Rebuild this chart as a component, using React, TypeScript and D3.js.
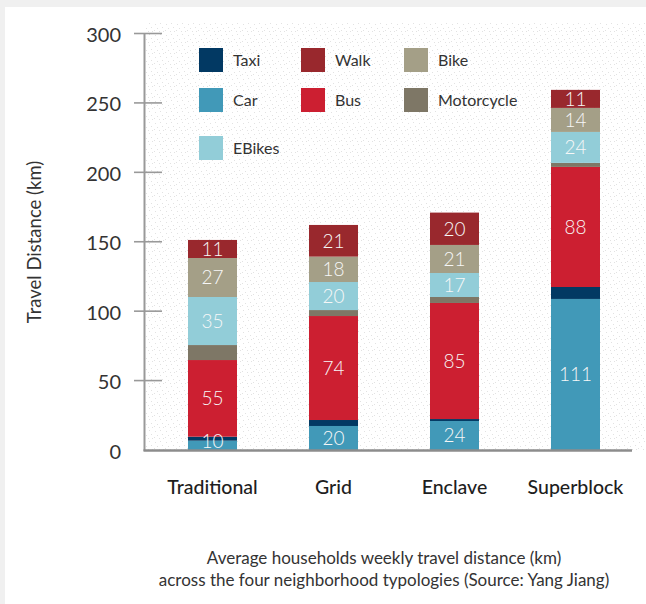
import React from "react";
import * as d3 from "d3";

const W = 646;
const H = 604;

const categories = ["Traditional", "Grid", "Enclave", "Superblock"];
const modes = ["Car", "Taxi", "Bus", "Motorcycle", "EBikes", "Bike", "Walk"];
const colors: Record<string, string> = {
  Car: "#4199b8",
  Taxi: "#023963",
  Bus: "#cc1f31",
  Motorcycle: "#7e7766",
  EBikes: "#92cdd8",
  Bike: "#a49f87",
  Walk: "#99282d",
};

// drawn segment heights (km), bottom to top, per category
const car = [6.7, 17.3, 20.9, 108.8];
const taxi = [2.9, 4.3, 1.4, 8.6];
const bus = [55.2, 74.9, 83.6, 86.5];
const motorcycle = [10.8, 4.3, 4.3, 2.9];
const ebikes = [34.6, 20.2, 17.3, 22.3];
const bike = [28.1, 18.3, 20.2, 17.3];
const walk = [13.0, 22.8, 23.3, 13.0];

// printed labels
const carLabels = ["10", "20", "24", "111"];
const busLabels = ["55", "74", "85", "88"];
const ebikeLabels = ["35", "20", "17", "24"];
const bikeLabels = ["27", "18", "21", "14"];
const walkLabels = ["11", "21", "20", "11"];

const yTicks = [0, 50, 100, 150, 200, 250, 300];

const legendRows = [
  ["Taxi", "Walk", "Bike"],
  ["Car", "Bus", "Motorcycle"],
  ["EBikes"],
];

const series: Record<string, number[]> = {
  Car: car,
  Taxi: taxi,
  Bus: bus,
  Motorcycle: motorcycle,
  EBikes: ebikes,
  Bike: bike,
  Walk: walk,
};
const labels: Record<string, string[] | null> = {
  Car: carLabels,
  Taxi: null,
  Bus: busLabels,
  Motorcycle: null,
  EBikes: ebikeLabels,
  Bike: bikeLabels,
  Walk: walkLabels,
};

const FONT = "Lato, 'Open Sans', sans-serif";

export default function App() {
  const x = d3
    .scaleBand<string>()
    .domain(categories)
    .range([151.7, 636.3])
    .paddingInner(0.595)
    .paddingOuter(0.3);
  const y = d3.scaleLinear().domain([0, 300]).range([450, 33.5]);

  const table = categories.map((c, i) => {
    const row: any = { cat: c };
    modes.forEach((m) => (row[m] = series[m][i]));
    return row;
  });
  const stacked = d3.stack<any>().keys(modes)(table);

  const dots: [number, number][] = [
    [1, 2], [6, 1], [3, 6], [8, 5], [5, 9], [0, 8], [9, 9],
  ];

  return (
    <svg
      width={W}
      height={H}
      style={{ position: "absolute", left: 0, top: 0, display: "block" }}
      fontFamily={FONT}
    >
      <defs>
        <pattern id="tex" width={11} height={11} patternUnits="userSpaceOnUse">
          {dots.map(([a, b], i) => (
            <rect key={i} x={a} y={b} width={1} height={1} fill="#e2e2e2" />
          ))}
        </pattern>
      </defs>
      <rect width={W} height={H} fill="#f0f0f0" />
      <rect x={5} y={7} width={W - 5} height={H - 7} fill="#ffffff" />
      <rect x={146} y={22} width={W - 146} height={428} fill="url(#tex)" />

      {/* bars */}
      {stacked.map((s) => (
        <g key={s.key}>
          {s.map((d, i) => (
            <rect
              key={i}
              x={x(categories[i])}
              y={y(d[1])}
              width={x.bandwidth()}
              height={y(d[0]) - y(d[1])}
              fill={colors[s.key]}
            />
          ))}
        </g>
      ))}
      {/* segment labels */}
      {stacked.map((s) => {
        const lab = labels[s.key];
        if (!lab) return null;
        return (
          <g key={"l" + s.key}>
            {s.map((d, i) => {
              const cy = Math.min((y(d[0]) + y(d[1])) / 2, y(0) - 9);
              return (
                <text
                  key={i}
                  x={(x(categories[i]) as number) + x.bandwidth() / 2}
                  y={cy}
                  dy="0.36em"
                  textAnchor="middle"
                  fill="#f7f7f7"
                  fontSize={19}
                  fontWeight={300}
                >
                  {lab[i]}
                </text>
              );
            })}
          </g>
        );
      })}

      {/* y axis */}
      <line x1={144.5} x2={144.5} y1={33} y2={451} stroke="#999" strokeWidth={2} />
      <line x1={143.5} x2={632} y1={450.5} y2={450.5} stroke="#8c8c8c" strokeWidth={2.5} />
      {yTicks.map((t) => (
        <g key={t}>
          {t > 0 && (
            <line x1={134} x2={162} y1={y(t)} y2={y(t)} stroke="#999" strokeWidth={1.6} />
          )}
          <text
            x={121}
            y={y(t) + 1.5}
            dy="0.35em"
            textAnchor="end"
            fontSize={20}
            fill="#333"
          >
            {t}
          </text>
        </g>
      ))}
      <text
        transform="translate(41,242) rotate(-90)"
        textAnchor="middle"
        fontSize={18.5}
        fill="#333"
      >
        Travel Distance (km)
      </text>

      {/* category labels */}
      {categories.map((c) => (
        <text
          key={c}
          x={(x(c) as number) + x.bandwidth() / 2}
          y={487}
          dy="0.35em"
          textAnchor="middle"
          fontSize={19.5}
          fontWeight={500}
          fill="#1e1e1e"
        >
          {c}
        </text>
      ))}

      {/* legend */}
      {legendRows.map((row, r) =>
        row.map((m, j) => {
          const lx = [199, 301, 404][j];
          const ly = [48, 88, 136][r];
          return (
            <g key={m}>
              <rect x={lx} y={ly} width={24} height={24} fill={colors[m]} />
              <text
                x={lx + 34}
                y={ly + 12}
                dy="0.35em"
                fontSize={16}
                fill="#333"
              >
                {m}
              </text>
            </g>
          );
        })
      )}

      {/* caption */}
      <text x={384} y={558} dy="0.35em" textAnchor="middle" fontSize={17} fill="#333">
        Average households weekly travel distance (km)
      </text>
      <text x={384} y={580} dy="0.35em" textAnchor="middle" fontSize={17} fill="#333">
        across the four neighborhood typologies (Source: Yang Jiang)
      </text>
    </svg>
  );
}
